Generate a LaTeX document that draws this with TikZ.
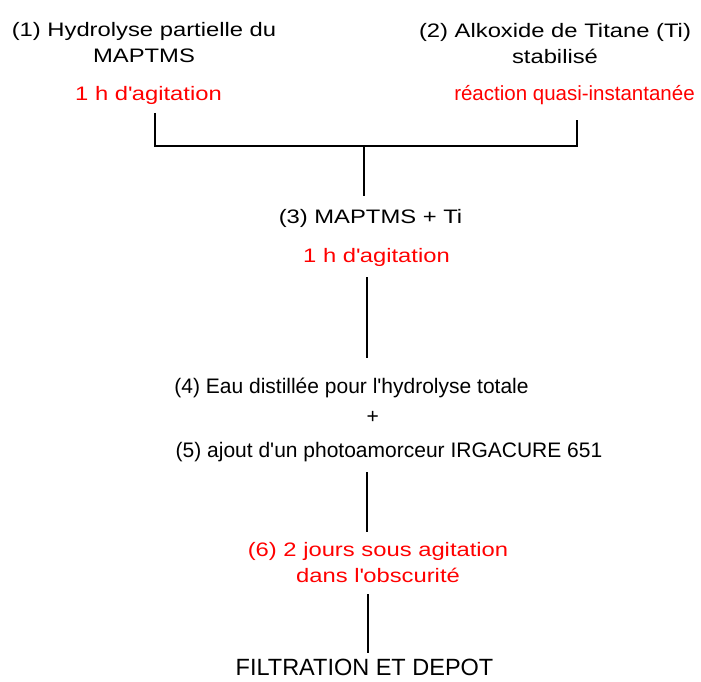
\documentclass[tikz,border=0pt]{standalone}
\usepackage{fontspec}
\setmainfont{Liberation Sans}
\newfontfamily\widesans[FakeStretch=1.22]{Liberation Sans}
\usetikzlibrary{positioning}
\newcommand{\apos}{\textquotesingle}
\tikzset{
  stage/.style={inner sep=0pt, align=center, font=\widesans\fontsize{19.5}{26}\selectfont},
  timing/.style={stage, text=red},
  mix/.style={inner sep=0pt, font=\fontsize{21}{26}\selectfont},
  link/.style={line width=1.6pt}
}

\begin{document}
\begin{tikzpicture}[x=1pt, y=-1pt]
  \useasboundingbox (0,0) rectangle (701,682);
  % the two starting products
  \node[stage] (hydro) at (144,43) {(1) Hydrolyse partielle du\\MAPTMS};
  \node[timing] (hydrotime) at (148.5,95) {1 h d\apos agitation};
  \node[stage] (alkox) at (555,44) {(2) Alkoxide de Titane (Ti)\\stabilisé};
  \node[timing, font=\fontsize{20.5}{26}\selectfont] (alkoxtime) at (574.5,95) {réaction quasi-instantanée};
  % mixing
  \node[stage] (mixed) at (370.5,218) {(3) MAPTMS + Ti};
  \node[timing] (mixedtime) at (376.5,257) {1 h d\apos agitation};
  \node[mix] (water) at (351.5,387.5) {(4) Eau distillée pour l\apos hydrolyse totale};
  \node[mix] (plus) at (372.7,417) {+};
  \node[mix] (photo) at (389,452.5) {(5) ajout d\apos un photoamorceur IRGACURE 651};
  \node[timing] (rest) at (378,563) {(6) 2 jours sous agitation\\dans l\apos obscurité};
  \node[inner sep=0pt, font=\fontsize{23.5}{26}\selectfont] (depot) at (364.5,667) {FILTRATION ET DEPOT};

  \coordinate (join) at (364,146);
  \coordinate (leftend) at (155,113);
  \coordinate (rightend) at (577,120);
  \coordinate (axis) at (367,0);
  \draw[link] (leftend) |- (join) -| (rightend);
  \draw[link, shorten >=13pt] (join) -- (join |- mixed.north);
  \draw[link, shorten <=11pt, shorten >=19pt] (axis |- mixedtime.south) -- (axis |- water.north);
  \draw[link, shorten <=9.6pt, shorten >=10.5pt] (axis |- photo.south) -- (axis |- rest.north);
  \draw[link, shorten <=11pt, shorten >=5pt] ([xshift=1pt]axis |- rest.south) -- ([xshift=1pt]axis |- depot.north);
\end{tikzpicture}
\end{document}
